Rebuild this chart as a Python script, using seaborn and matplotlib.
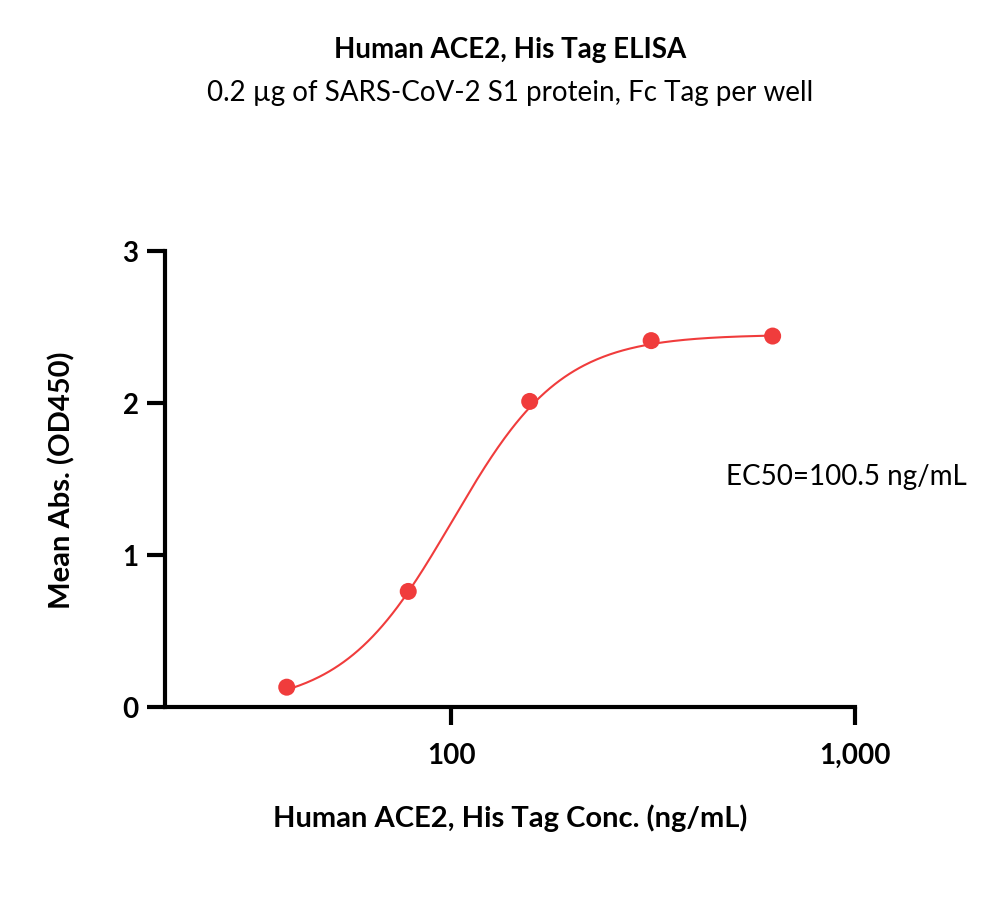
import numpy as np
import pandas as pd
import matplotlib
matplotlib.use('Agg')
import matplotlib.pyplot as plt
import matplotlib.ticker as mticker
import seaborn as sns

# measured points
conc = [39.06, 78.13, 156.25, 312.5, 625.0]
od450 = [0.13, 0.76, 2.01, 2.41, 2.44]

# 4PL fit parameters (bottom, top, EC50, hill)
fit_bottom = 0.0
fit_top = 2.45
fit_ec50 = 100.5
fit_hill = 3.2

red = '#F03C3C'

sns.set_style('white')
plt.rcParams['font.family'] = ['Lato', 'DejaVu Sans']
plt.rcParams['text.color'] = 'black'
plt.rcParams['axes.labelcolor'] = 'black'
plt.rcParams['xtick.color'] = 'black'
plt.rcParams['ytick.color'] = 'black'

df = pd.DataFrame({'conc': conc, 'od': od450})
xs = np.logspace(np.log10(conc[0]), np.log10(conc[-1]), 300)
fit = pd.DataFrame({'conc': xs,
                    'od': fit_bottom + (fit_top - fit_bottom) / (1 + (fit_ec50 / xs) ** fit_hill)})

fig = plt.figure(figsize=(10, 9.03), dpi=100)
ax = fig.add_axes([0.165, 0.216, 0.69, 0.505])

sns.lineplot(data=fit, x='conc', y='od', color=red, linewidth=1.5, ax=ax)
sns.scatterplot(data=df, x='conc', y='od', color=red, s=150, edgecolor='none', ax=ax, zorder=3)

ax.set_xscale('log')
ax.set_xlim(19.5, 1000)
ax.set_ylim(0, 3)
ax.set_xticks([100, 1000])
ax.xaxis.set_major_formatter(mticker.FuncFormatter(lambda v, p: f'{int(v):,}'))
ax.xaxis.set_minor_locator(mticker.NullLocator())
ax.set_yticks([0, 1, 2, 3])

for s in ['top', 'right']:
    ax.spines[s].set_visible(False)
for s in ['left', 'bottom']:
    ax.spines[s].set_linewidth(3)
    ax.spines[s].set_color('black')
ax.tick_params(axis='both', which='major', bottom=True, left=True, direction='out',
               width=3, length=13, labelsize=20, color='black', labelcolor='black')
ax.tick_params(axis='x', pad=12)
ax.tick_params(axis='y', pad=6)
for lab in ax.get_xticklabels() + ax.get_yticklabels():
    lab.set_fontweight('bold')

ax.set_xlabel('Human ACE2, His Tag Conc. (ng/mL)', fontsize=21, fontweight='bold', labelpad=26)
ax.set_ylabel('Mean Abs. (OD450)', fontsize=21, fontweight='bold', labelpad=34)

ax.text(480, 1.52, 'EC50=100.5 ng/mL', fontsize=20, va='center', ha='left')

fig.text(0.51, 0.945, 'Human ACE2, His Tag ELISA', fontsize=20, fontweight='bold', ha='center', va='center')
fig.text(0.51, 0.897, '0.2 µg of SARS-CoV-2 S1 protein, Fc Tag per well', fontsize=20, ha='center', va='center')

fig.savefig('out.png', dpi=100, facecolor='white')
